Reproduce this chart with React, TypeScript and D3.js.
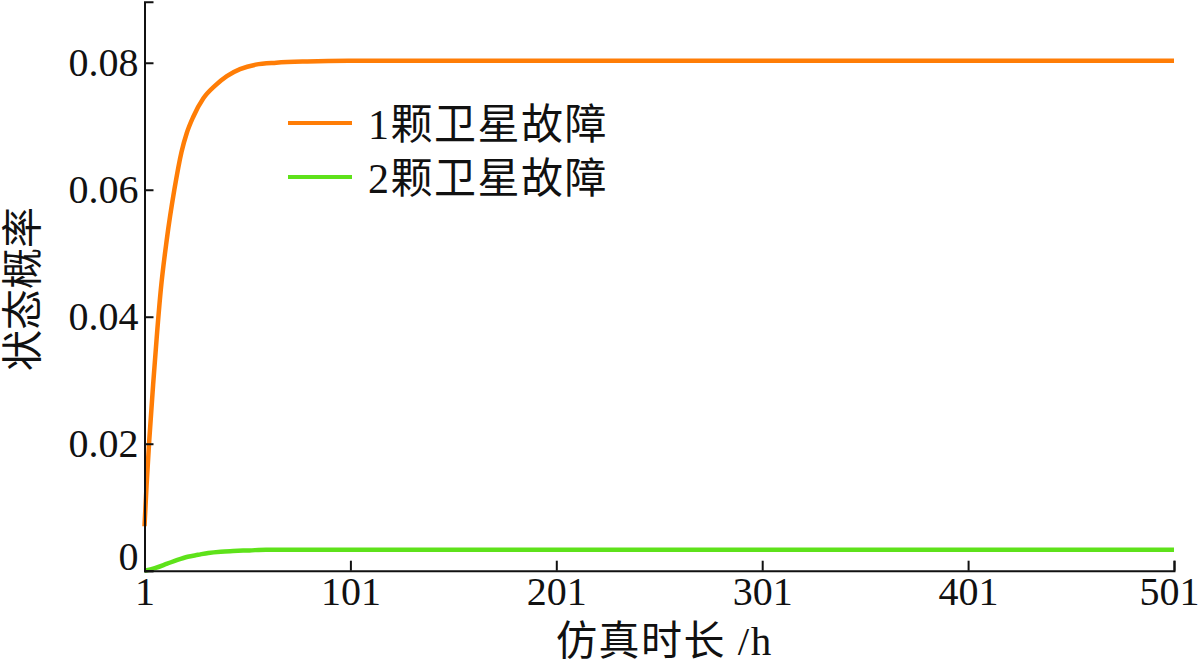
import React, { useEffect, useRef } from "react";
import * as d3 from "d3";

// Simulation time (h) and state probabilities
const orangeT = [1, 2, 3.3, 5.3, 6.9, 8.9, 11.8, 15.5, 19, 21.5, 24.7, 29.6, 35.3, 41, 47.4, 55, 65, 80, 100, 200, 300, 400, 501];
const orangeV = [0.007, 0.0134, 0.0205, 0.0298, 0.0366, 0.0442, 0.0521, 0.06, 0.066, 0.0689, 0.0715, 0.0744, 0.0764, 0.0779, 0.079, 0.0797, 0.08, 0.0802, 0.0803, 0.0803, 0.0803, 0.0803, 0.0803];

const greenT = [1, 6, 12, 17, 22, 27, 32, 38, 44, 52, 60, 80, 120, 200, 300, 400, 501];
const greenV = [0, 0.0004, 0.0011, 0.0017, 0.0022, 0.0025, 0.0028, 0.003, 0.0031, 0.0032, 0.0033, 0.0033, 0.0033, 0.0033, 0.0033, 0.0033, 0.0033];

const seriesNames = ["1颗卫星故障", "2颗卫星故障"];
const seriesColors = ["#ff7d06", "#5ee21a"];

const xTicks = [1, 101, 201, 301, 401, 501];
const yTicks = [0, 0.02, 0.04, 0.06, 0.08];
const xDomain = [1, 501];
const yDomain = [0, 0.0896];

const xTitle = "仿真时长 /h";
const yTitle = "状态概率";

const FONT = "'Liberation Serif', 'Noto Sans CJK SC', serif";

export default function App() {
  const ref = useRef<SVGSVGElement | null>(null);

  useEffect(() => {
    const svg = d3.select(ref.current);
    svg.selectAll("*").remove();

    const x = d3.scaleLinear().domain(xDomain).range([144.5, 1174]);
    const y = d3.scaleLinear().domain(yDomain).range([570.7, 1.8]);

    const line = d3
      .line<[number, number]>()
      .x((d) => x(d[0]))
      .y((d) => y(d[1]))
      .curve(d3.curveMonotoneX);

    const orangeData = orangeT.map((t, i) => [t, orangeV[i]] as [number, number]);
    const greenData = greenT.map((t, i) => [t, greenV[i]] as [number, number]);

    [orangeData, greenData].forEach((data, i) => {
      svg
        .append("path")
        .attr("d", line(data) as string)
        .attr("fill", "none")
        .attr("stroke", seriesColors[i])
        .attr("stroke-width", 4.5)
        .attr("stroke-linejoin", "round");
    });

    // axes
    const xAxis = d3
      .axisBottom(x)
      .tickValues(xTicks)
      .tickFormat((d) => String(d))
      .tickSizeInner(-10)
      .tickSizeOuter(-10)
      .tickPadding(6);
    const gx = svg.append("g").attr("transform", `translate(0,${y(0)})`).call(xAxis);

    const yAxis = d3
      .axisLeft(y)
      .tickValues(yTicks)
      .tickFormat((d) => (d === 0 ? "0" : d3.format(".2f")(d as number)))
      .tickSizeInner(-9)
      .tickSizeOuter(-9)
      .tickPadding(6);
    const gy = svg.append("g").attr("transform", `translate(${x(1)},0)`).call(yAxis);

    [gx, gy].forEach((g) => {
      g.selectAll("path, line").attr("stroke", "#111").attr("stroke-width", 2);
      g.selectAll("text").attr("font-family", FONT).attr("font-size", 40).attr("fill", "#111");
    });
    // "0" label sits above the x axis
    gy.selectAll<SVGTextElement, number>("text")
      .filter((d) => d === 0)
      .attr("y", -14);
    // last x label kept inside the frame
    gx.selectAll<SVGTextElement, number>("text")
      .filter((d) => d === 501)
      .attr("x", -5);

    // axis titles
    svg
      .append("text")
      .attr("x", 556)
      .attr("y", 655)
      .attr("font-family", FONT)
      .attr("font-size", 41)
      .attr("letter-spacing", 1.5)
      .attr("fill", "#111")
      .text(xTitle);

    svg
      .append("text")
      .attr("transform", "translate(23,289) rotate(-90)")
      .attr("text-anchor", "middle")
      .attr("dominant-baseline", "central")
      .attr("font-family", FONT)
      .attr("font-size", 41)
      .attr("fill", "#111")
      .text(yTitle);

    // legend
    const legendY = [123, 177];
    seriesNames.forEach((name, i) => {
      svg
        .append("line")
        .attr("x1", 288)
        .attr("x2", 352)
        .attr("y1", legendY[i])
        .attr("y2", legendY[i])
        .attr("stroke", seriesColors[i])
        .attr("stroke-width", 4);
      svg
        .append("text")
        .attr("x", 368)
        .attr("y", legendY[i] + 2)
        .attr("dominant-baseline", "central")
        .attr("font-family", FONT)
        .attr("font-size", 42)
        .attr("letter-spacing", 1.5)
        .attr("fill", "#111")
        .text(name);
    });
  }, []);

  return (
    <svg
      ref={ref}
      width={1200}
      height={668}
      style={{ position: "absolute", left: 0, top: 0, background: "#fff" }}
    />
  );
}
